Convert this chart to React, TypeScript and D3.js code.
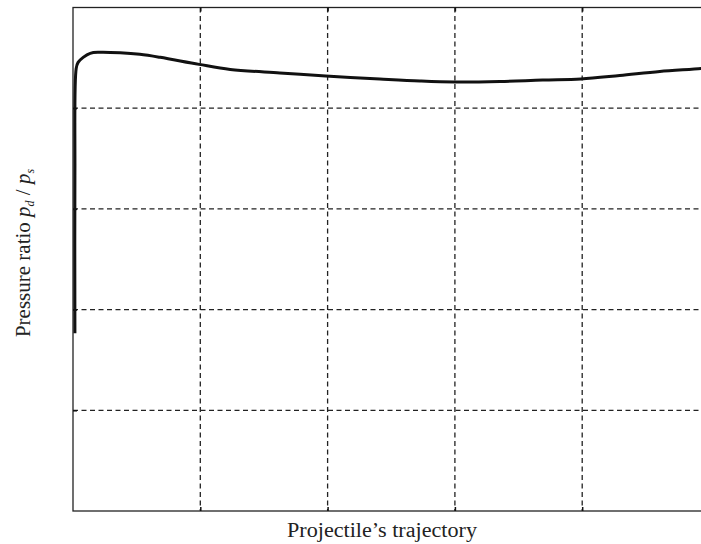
import React, { useRef, useEffect } from 'react';
import * as d3 from 'd3';

// trajectory position (fraction) vs pressure ratio
const trajX = [0.003, 0.003, 0.005, 0.008, 0.016, 0.027, 0.042, 0.074, 0.105, 0.137, 0.198, 0.247, 0.325, 0.397, 0.482, 0.545, 0.599, 0.671, 0.738, 0.798, 0.859, 0.922, 0.987, 1.0];
const ratioY = [0.353, 0.667, 0.879, 0.891, 0.901, 0.909, 0.911, 0.910, 0.907, 0.901, 0.887, 0.877, 0.870, 0.864, 0.858, 0.854, 0.852, 0.853, 0.856, 0.858, 0.865, 0.873, 0.879, 0.881];
const xTicks = [0.2, 0.4, 0.6, 0.8];
const yTicks = [0.2, 0.4, 0.6, 0.8];

const App = () => {
  const svgRef = useRef<SVGSVGElement>(null);

  useEffect(() => {
    const width = 701;
    const height = 544;
    const margin = { top: 7.5, right: -8.5, bottom: 33, left: 73 };
    const innerWidth = width - margin.left - margin.right;
    const innerHeight = height - margin.top - margin.bottom;

    const root = d3.select(svgRef.current);
    root.selectAll('*').remove();
    root.attr('width', width).attr('height', height);

    const svg = root.append('g')
      .attr('transform', 'translate(' + margin.left + ',' + margin.top + ')');

    const xScale = d3.scaleLinear().domain([0, 1]).range([0, innerWidth]);
    const yScale = d3.scaleLinear().domain([0, 1]).range([innerHeight, 0]);

    // dashed grid
    svg.selectAll('.vgrid')
      .data(xTicks)
      .enter()
      .append('line')
      .attr('x1', d => xScale(d))
      .attr('x2', d => xScale(d))
      .attr('y1', 0)
      .attr('y2', innerHeight)
      .attr('stroke', '#222')
      .attr('stroke-width', 1.3)
      .attr('stroke-dasharray', '5,3.5');

    svg.selectAll('.hgrid')
      .data(yTicks)
      .enter()
      .append('line')
      .attr('x1', 0)
      .attr('x2', innerWidth)
      .attr('y1', d => yScale(d))
      .attr('y2', d => yScale(d))
      .attr('stroke', '#222')
      .attr('stroke-width', 1.3)
      .attr('stroke-dasharray', '5,3.5');

    // frame
    svg.append('rect')
      .attr('x', 0)
      .attr('y', 0)
      .attr('width', innerWidth)
      .attr('height', innerHeight)
      .attr('fill', 'none')
      .attr('stroke', '#222')
      .attr('stroke-width', 1.3);

    // inward ticks
    const bottom = svg.append('g')
      .attr('transform', 'translate(0,' + innerHeight + ')')
      .call(d3.axisBottom(xScale).tickValues(xTicks).tickSize(-4).tickFormat(() => ''));
    const top = svg.append('g')
      .call(d3.axisTop(xScale).tickValues(xTicks).tickSize(-4).tickFormat(() => ''));
    const left = svg.append('g')
      .call(d3.axisLeft(yScale).tickValues(yTicks).tickSize(-4).tickFormat(() => ''));
    [bottom, top, left].forEach(g => {
      g.select('.domain').remove();
      g.selectAll('line').attr('stroke', '#111').attr('stroke-width', 1.5);
    });

    // curve
    const line = d3.line<number>()
      .x((d, i) => xScale(trajX[i]))
      .y(d => yScale(d))
      .curve(d3.curveCatmullRom.alpha(0.5));

    svg.append('path')
      .datum(ratioY)
      .attr('d', line)
      .attr('fill', 'none')
      .attr('stroke', '#111')
      .attr('stroke-width', 3);

    // labels
    root.append('text')
      .attr('x', 382)
      .attr('y', 537)
      .attr('text-anchor', 'middle')
      .attr('textLength', 190)
      .attr('lengthAdjust', 'spacingAndGlyphs')
      .style('font-family', '"Liberation Serif", "Times New Roman", serif')
      .style('font-size', '20px')
      .attr('fill', '#222')
      .text("Projectile\u2019s trajectory");

    const yl = root.append('text')
      .attr('transform', 'translate(30,253) rotate(-90)')
      .attr('text-anchor', 'middle')
      .style('font-family', '"Liberation Serif", "Times New Roman", serif')
      .style('font-size', '21px')
      .attr('fill', '#222');
    yl.append('tspan').text('Pressure ratio ');
    yl.append('tspan').style('font-style', 'italic').text('p');
    yl.append('tspan').style('font-style', 'italic').style('font-size', '12px').attr('dy', 4).text('d');
    yl.append('tspan').attr('dy', -4).text(' / ');
    yl.append('tspan').style('font-style', 'italic').text('p');
    yl.append('tspan').style('font-style', 'italic').style('font-size', '12px').attr('dy', 4).text('s');
  }, []);

  return (
    <svg ref={svgRef} style={{ position: 'absolute', left: 0, top: 0, background: '#fff' }}></svg>
  );
};

export default App;
